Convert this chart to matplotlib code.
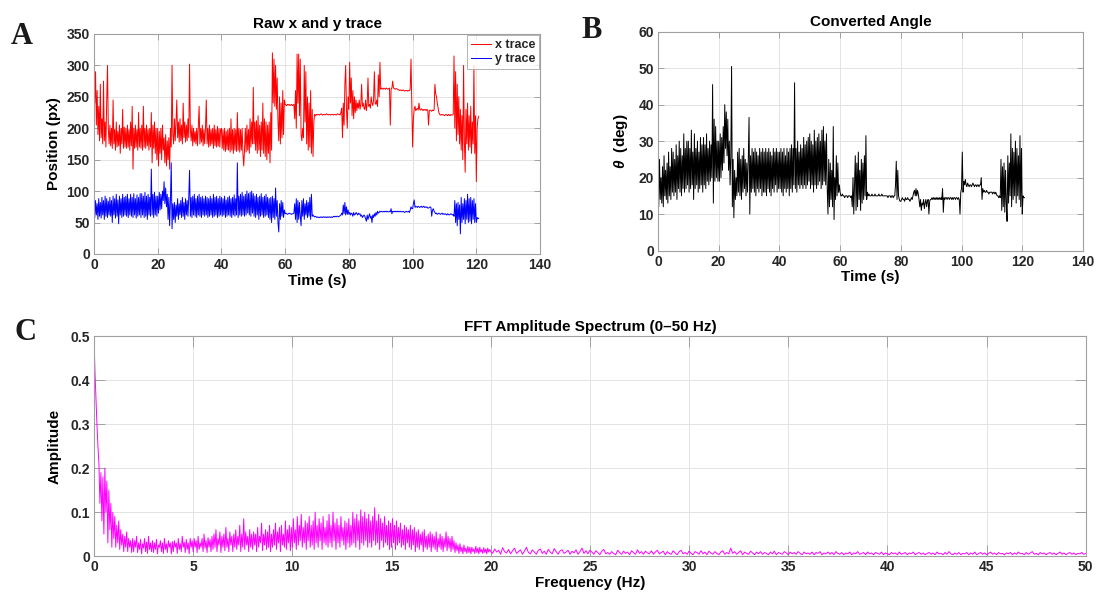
import numpy as np
import matplotlib
matplotlib.use("Agg")
import matplotlib.pyplot as plt
from matplotlib.ticker import FuncFormatter

plt.rcParams['font.family'] = ['Liberation Sans', 'DejaVu Sans']
plt.rcParams['mathtext.fontset'] = 'custom'
plt.rcParams['mathtext.it'] = 'Liberation Sans:italic:bold'
plt.rcParams['mathtext.rm'] = 'Liberation Sans:bold'

# ---- data, 0.25 s sampling (one row = 5 s) ----
x_trace = [
    300, 240, 290, 205, 260, 190, 235, 180, 270, 185, 215, 175, 275, 180, 210, 170, 245, 300, 200, 175,
    205, 172, 200, 168, 245, 175, 198, 165, 210, 170, 195, 172, 205, 160, 200, 175, 230, 168, 202, 170,
    200, 168, 205, 170, 198, 165, 210, 172, 235, 135, 200, 168, 205, 170, 198, 165, 225, 170, 200, 168,
    205, 165, 235, 170, 200, 168, 205, 172, 198, 165, 200, 170, 225, 145, 205, 168, 210, 160, 200, 150,
    200, 140, 195, 160, 200, 150, 205, 165, 185, 145, 190, 140, 180, 150, 185, 135, 200, 170, 300, 190,
    175, 215, 180, 210, 245, 185, 210, 178, 215, 180, 205, 175, 240, 185, 210, 178, 205, 180, 215, 185,
    302, 200, 180, 205, 172, 200, 178, 195, 175, 200, 172, 205, 235, 175, 200, 178, 205, 172, 198, 175,
    200, 245, 175, 200, 170, 205, 172, 198, 175, 200, 168, 205, 172, 198, 170, 203, 172, 200, 170, 198,
    200, 168, 198, 165, 200, 163, 195, 166, 198, 165, 200, 162, 215, 165, 198, 160, 200, 165, 198, 163,
    225, 165, 200, 162, 198, 165, 200, 160, 140, 165, 200, 162, 205, 165, 198, 160, 215, 170, 210, 175,
    265, 175, 210, 165, 212, 160, 220, 165, 205, 155, 210, 165, 240, 160, 215, 155, 210, 150, 205, 160,
    210, 145, 225, 165, 320, 240, 310, 235, 300, 230, 280, 210, 180, 250, 175, 240, 185, 260, 190, 245,
    238, 237, 236, 238, 237, 238, 236, 237, 238, 236, 237, 238, 215, 260, 200, 318, 240, 318, 220, 310,
    190, 180, 200, 185, 300, 210, 290, 175, 250, 165, 240, 170, 260, 160, 230, 155, 210, 222, 220, 222,
    221, 222, 222, 221, 222, 223, 222, 221, 222, 222, 221, 222, 223, 222, 221, 222, 222, 221, 222, 222,
    222, 221, 222, 222, 221, 222, 223, 222, 222, 221, 225, 232, 185, 240, 205, 270, 300, 230, 200, 250,
    230, 305, 240, 280, 220, 260, 215, 250, 225, 245, 228, 240, 232, 245, 230, 238, 270, 235, 240, 232,
    230, 245, 228, 240, 280, 235, 238, 232, 250, 240, 236, 245, 290, 240, 238, 245, 235, 285, 250, 305,
    262, 264, 263, 262, 264, 263, 262, 264, 263, 262, 263, 264, 205, 262, 264, 275, 264, 263, 262, 263,
    263, 262, 261, 261, 260, 261, 260, 260, 261, 260, 259, 260, 260, 260, 259, 260, 260, 262, 310, 240,
    170, 215, 230, 235, 228, 230, 232, 229, 240, 230, 229, 231, 230, 228, 230, 229, 230, 228, 230, 229,
    205, 228, 229, 228, 227, 229, 228, 229, 270, 255, 250, 240, 232, 225, 222, 221, 222, 221, 222, 221,
    220, 221, 222, 221, 220, 222, 221, 220, 222, 221, 221, 222, 315, 200, 290, 180, 270, 190, 250, 175,
    230, 165, 220, 150, 300, 180, 130, 230, 175, 240, 165, 220, 170, 235, 160, 210, 175, 300, 160, 220,
    115, 200, 215, 219,
]

y_trace = [
    75, 58, 85, 62, 80, 55, 88, 60, 82, 57, 90, 62, 85, 55, 92, 60, 88, 58, 84, 62,
    90, 60, 85, 50, 92, 62, 88, 57, 95, 60, 86, 48, 92, 62, 88, 58, 95, 60, 90, 62,
    92, 60, 95, 58, 88, 62, 95, 60, 90, 58, 96, 62, 88, 57, 94, 60, 90, 62, 96, 58,
    96, 62, 92, 58, 98, 60, 92, 55, 95, 62, 90, 60, 135, 62, 95, 58, 98, 62, 92, 60,
    92, 65, 98, 70, 95, 72, 100, 85, 115, 80, 105, 75, 95, 55, 90, 45, 85, 145, 40, 80,
    55, 82, 50, 78, 60, 88, 55, 80, 62, 85, 58, 90, 60, 82, 55, 88, 62, 85, 60, 90,
    133, 60, 90, 58, 92, 62, 95, 60, 88, 58, 92, 62, 95, 60, 90, 58, 92, 62, 88, 60,
    92, 62, 90, 58, 88, 60, 92, 62, 88, 58, 95, 60, 90, 62, 92, 58, 88, 60, 92, 62,
    90, 60, 88, 62, 92, 58, 86, 60, 90, 62, 92, 60, 88, 58, 90, 62, 94, 60, 88, 62,
    145, 58, 92, 62, 95, 60, 98, 62, 92, 60, 95, 62, 100, 65, 96, 62, 98, 60, 100, 65,
    96, 60, 92, 58, 95, 62, 90, 55, 92, 60, 96, 62, 90, 58, 92, 60, 95, 62, 90, 58,
    88, 55, 90, 50, 92, 58, 88, 55, 105, 60, 85, 50, 35, 80, 55, 85, 60, 82, 58, 70,
    64, 65, 64, 63, 64, 65, 64, 64, 63, 64, 64, 65, 80, 55, 88, 50, 85, 55, 82, 60,
    45, 85, 60, 88, 55, 80, 62, 85, 58, 82, 60, 90, 55, 95, 60, 62, 60, 59, 60, 59,
    58, 59, 58, 58, 59, 58, 59, 58, 59, 59, 58, 59, 58, 59, 58, 59, 59, 58, 59, 58,
    59, 60, 59, 60, 59, 60, 60, 59, 60, 61, 62, 65, 62, 78, 64, 82, 62, 75, 63, 70,
    63, 66, 62, 65, 64, 60, 66, 62, 63, 66, 64, 62, 65, 63, 64, 60, 62, 58, 60, 62,
    60, 56, 52, 62, 55, 60, 64, 57, 60, 50, 62, 58, 64, 60, 66, 62, 68, 65, 66, 68,
    67, 68, 67, 67, 68, 67, 68, 67, 68, 67, 67, 68, 67, 72, 64, 68, 67, 68, 67, 68,
    67, 68, 67, 68, 67, 68, 67, 67, 68, 67, 66, 67, 68, 67, 67, 68, 66, 70, 75, 72,
    72, 80, 86, 74, 76, 75, 74, 76, 75, 74, 75, 76, 74, 75, 76, 74, 75, 74, 75, 73,
    73, 74, 75, 74, 60, 70, 72, 68, 66, 64, 65, 63, 64, 65, 64, 63, 64, 65, 63, 64,
    63, 64, 63, 62, 64, 63, 62, 63, 64, 63, 62, 63, 60, 85, 50, 80, 45, 82, 55, 78,
    32, 90, 50, 80, 55, 88, 48, 85, 55, 95, 50, 88, 52, 90, 48, 85, 55, 88, 50, 80,
    50, 58, 56, 57,
]

theta_deg = [
    22, 12, 25, 14, 20, 13, 23, 12, 26, 15, 22, 14, 24, 13, 27, 15, 23, 14, 28, 16,
    27, 15, 25, 16, 29, 14, 26, 17, 30, 16, 28, 15, 26, 17, 32, 16, 28, 17, 30, 18,
    30, 16, 28, 17, 33, 18, 27, 14, 32, 17, 28, 18, 30, 16, 27, 17, 31, 18, 29, 16,
    31, 18, 29, 17, 32, 19, 28, 18, 30, 19, 29, 20, 45.5, 13, 36, 19, 34, 20, 30, 19,
    30, 19, 32, 20, 31, 22, 34, 24, 40, 28, 38, 26, 36, 22, 30, 18, 26, 50.5, 12, 25,
    9, 22, 14, 20, 15, 27, 16, 28, 15, 25, 14, 26, 16, 28, 17, 25, 15, 24, 16, 25,
    36.5, 10, 26, 16, 28, 17, 27, 16, 28, 15, 27, 17, 26, 16, 28, 17, 27, 15, 28, 16,
    27, 16, 28, 15, 27, 17, 28, 16, 27, 15, 26, 17, 28, 16, 27, 18, 28, 16, 27, 17,
    27, 17, 28, 16, 27, 15, 28, 17, 26, 16, 28, 17, 27, 15, 28, 17, 29, 16, 28, 18,
    46, 17, 28, 16, 30, 18, 27, 17, 29, 18, 28, 17, 31, 18, 29, 17, 30, 18, 31, 19,
    32, 17, 30, 18, 29, 16, 33, 18, 30, 17, 31, 18, 32, 19, 30, 17, 33, 18, 34, 19,
    30, 18, 32, 17, 10, 25, 12, 24, 14, 22, 12, 34, 8.5, 20, 14, 26, 15, 24, 16, 18,
    16, 15, 15, 15.5, 15, 15, 14.5, 15, 15, 15, 14.5, 15, 15, 15, 14.5, 15, 12, 20, 10, 18,
    26, 11, 24, 12, 27, 14, 22, 11, 25, 13, 24, 14, 26, 15, 31.5, 14, 16, 15, 15.5, 15,
    15, 15, 15.5, 15, 15, 15, 15.5, 15, 15, 15, 15, 15.5, 15, 15, 15, 15.5, 15, 15, 15, 15,
    15, 15, 15, 14.5, 15, 15, 15, 14.5, 15, 15, 14.5, 15, 15, 18, 24.5, 14, 22, 15, 14, 13.5,
    13.5, 14, 14.5, 14, 14, 13.5, 14.5, 14, 14, 14.5, 14, 14, 13.5, 14, 14.5, 14, 15, 16, 16.5, 15,
    17, 15, 16.5, 15.5, 14, 12, 14, 11, 13, 12.5, 14, 11.5, 13, 14, 12, 13.5, 14, 10, 13.5, 14,
    14, 14.5, 14, 14.5, 14, 14.5, 14, 14.5, 14, 14.5, 14, 14.5, 14, 14.5, 14, 17, 10.5, 14.5, 14, 14.5,
    14.5, 14, 14.5, 14.5, 14, 14.5, 14.5, 14, 14.5, 14, 14.5, 14.5, 14, 14.5, 14.5, 14, 14.5, 14, 10, 16,
    17, 27, 16, 19, 18, 19.5, 18, 17.5, 18.5, 18, 17.5, 18, 18, 17.5, 18, 18.5, 18, 17.5, 18, 18,
    17.5, 18, 18, 17.5, 18, 18, 20, 14, 17, 16, 16.5, 16, 16, 16.5, 16, 16, 15.5, 16, 16, 16,
    16, 15.5, 16, 16, 15.5, 16, 15.5, 15, 15, 14.5, 15, 14.5, 25, 11, 23, 12, 24, 10.5, 22, 13,
    8, 26, 13, 24, 15, 32, 12, 28, 14, 27, 15, 30, 13, 28, 15, 26, 14, 31.5, 12, 28,
    10, 15, 14.5, 14.5,
]

# FFT amplitude: 0.05 Hz bins to 20 Hz (one row = 1 Hz), then 0.1 Hz bins (one row = 2 Hz)
fft_amp = [
    0.50, 0.42, 0.36, 0.30, 0.25, 0.21, 0.12, 0.19, 0.08, 0.18, 0.05, 0.20, 0.10, 0.17, 0.03, 0.15, 0.06, 0.12, 0.02, 0.10,
    0.04, 0.09, 0.02, 0.07, 0.03, 0.08, 0.015, 0.06, 0.025, 0.05, 0.01, 0.045, 0.02, 0.055, 0.01, 0.04, 0.02, 0.035, 0.008, 0.04,
    0.01, 0.035, 0.02, 0.045, 0.008, 0.03, 0.015, 0.038, 0.005, 0.028, 0.018, 0.04, 0.01, 0.032, 0.006, 0.045, 0.015, 0.03, 0.01, 0.035,
    0.008, 0.03, 0.015, 0.038, 0.005, 0.025, 0.02, 0.035, 0.01, 0.03, 0.006, 0.04, 0.015, 0.028, 0.008, 0.035, 0.02, 0.03, 0.005, 0.033,
    0.01, 0.035, 0.02, 0.03, 0.006, 0.04, 0.015, 0.028, 0.01, 0.045, 0.02, 0.032, 0.008, 0.038, 0.015, 0.03, 0.005, 0.04, 0.02, 0.035,
    0.01, 0.04, 0.02, 0.035, 0.008, 0.045, 0.015, 0.03, 0.02, 0.04, 0.01, 0.05, 0.018, 0.035, 0.008, 0.042, 0.02, 0.038, 0.01, 0.045,
    0.015, 0.05, 0.02, 0.06, 0.01, 0.04, 0.025, 0.055, 0.008, 0.045, 0.02, 0.05, 0.012, 0.065, 0.02, 0.04, 0.01, 0.055, 0.025, 0.045,
    0.01, 0.05, 0.02, 0.06, 0.015, 0.045, 0.025, 0.07, 0.01, 0.05, 0.02, 0.085, 0.015, 0.055, 0.025, 0.045, 0.01, 0.06, 0.02, 0.05,
    0.015, 0.055, 0.025, 0.05, 0.01, 0.065, 0.02, 0.045, 0.03, 0.075, 0.012, 0.05, 0.025, 0.06, 0.015, 0.055, 0.02, 0.07, 0.01, 0.05,
    0.02, 0.06, 0.025, 0.075, 0.015, 0.055, 0.03, 0.065, 0.01, 0.07, 0.025, 0.05, 0.02, 0.08, 0.015, 0.06, 0.03, 0.07, 0.012, 0.065,
    0.02, 0.085, 0.03, 0.06, 0.015, 0.09, 0.025, 0.07, 0.035, 0.095, 0.02, 0.065, 0.03, 0.08, 0.015, 0.075, 0.035, 0.09, 0.02, 0.07,
    0.025, 0.08, 0.015, 0.1, 0.03, 0.07, 0.02, 0.085, 0.035, 0.075, 0.015, 0.09, 0.03, 0.065, 0.025, 0.08, 0.02, 0.095, 0.03, 0.07,
    0.02, 0.1, 0.035, 0.075, 0.015, 0.085, 0.03, 0.07, 0.02, 0.09, 0.035, 0.065, 0.025, 0.08, 0.015, 0.075, 0.03, 0.085, 0.02, 0.07,
    0.025, 0.1, 0.03, 0.085, 0.02, 0.095, 0.035, 0.08, 0.015, 0.105, 0.03, 0.09, 0.025, 0.1, 0.035, 0.085, 0.02, 0.095, 0.03, 0.08,
    0.02, 0.09, 0.035, 0.11, 0.025, 0.08, 0.03, 0.095, 0.015, 0.085, 0.035, 0.075, 0.02, 0.09, 0.03, 0.07, 0.025, 0.08, 0.015, 0.075,
    0.02, 0.085, 0.03, 0.07, 0.015, 0.08, 0.025, 0.065, 0.03, 0.075, 0.02, 0.06, 0.025, 0.07, 0.015, 0.065, 0.03, 0.06, 0.02, 0.07,
    0.015, 0.06, 0.025, 0.065, 0.01, 0.055, 0.02, 0.06, 0.015, 0.05, 0.025, 0.055, 0.01, 0.06, 0.02, 0.045, 0.015, 0.05, 0.02, 0.055,
    0.01, 0.05, 0.02, 0.045, 0.015, 0.055, 0.01, 0.04, 0.02, 0.05, 0.015, 0.045, 0.01, 0.04, 0.02, 0.055, 0.012, 0.045, 0.018, 0.04,
    0.01, 0.045, 0.015, 0.035, 0.008, 0.03, 0.012, 0.025, 0.006, 0.028, 0.01, 0.02, 0.005, 0.025, 0.01, 0.018, 0.006, 0.022, 0.008, 0.02,
    0.005, 0.02, 0.01, 0.016, 0.006, 0.022, 0.008, 0.018, 0.005, 0.02, 0.009, 0.015, 0.006, 0.019, 0.008, 0.016, 0.005, 0.018, 0.009, 0.015,
    0.01,
    0.006, 0.016, 0.009, 0.013, 0.004, 0.019, 0.01, 0.007, 0.015, 0.005, 0.012, 0.018, 0.006, 0.01, 0.014, 0.004, 0.011, 0.02, 0.008, 0.005,
    0.014, 0.009, 0.004, 0.013, 0.016, 0.006, 0.011, 0.004, 0.015, 0.009, 0.005, 0.017, 0.01, 0.004, 0.012, 0.014, 0.006, 0.009, 0.013, 0.004,
    0.011, 0.007, 0.014, 0.004, 0.01, 0.018, 0.006, 0.012, 0.005, 0.013, 0.009, 0.004, 0.012, 0.008, 0.003, 0.011, 0.015, 0.005, 0.008, 0.004,
    0.01, 0.006, 0.003, 0.013, 0.008, 0.004, 0.011, 0.006, 0.009, 0.003, 0.012, 0.008, 0.004, 0.014, 0.006, 0.01, 0.004, 0.011, 0.007, 0.005,
    0.012, 0.004, 0.009, 0.013, 0.005, 0.008, 0.011, 0.003, 0.01, 0.006, 0.004, 0.012, 0.007, 0.003, 0.01, 0.013, 0.005, 0.008, 0.004, 0.011,
    0.006, 0.003, 0.01, 0.008, 0.004, 0.012, 0.005, 0.009, 0.003, 0.011, 0.007, 0.004, 0.01, 0.006, 0.003, 0.009, 0.012, 0.004, 0.008, 0.005,
    0.018, 0.006, 0.01, 0.004, 0.008, 0.012, 0.003, 0.009, 0.006, 0.004, 0.011, 0.007, 0.003, 0.009, 0.005, 0.01, 0.004, 0.008, 0.006, 0.003,
    0.009, 0.005, 0.011, 0.003, 0.008, 0.006, 0.004, 0.01, 0.007, 0.003, 0.009, 0.005, 0.008, 0.004, 0.01, 0.006, 0.003, 0.009, 0.005, 0.007,
    0.004, 0.009, 0.003, 0.008, 0.006, 0.01, 0.003, 0.007, 0.005, 0.009, 0.004, 0.008, 0.003, 0.01, 0.006, 0.004, 0.008, 0.003, 0.007, 0.005,
    0.009, 0.003, 0.007, 0.005, 0.01, 0.004, 0.006, 0.008, 0.003, 0.009, 0.005, 0.007, 0.003, 0.008, 0.006, 0.004, 0.009, 0.003, 0.007, 0.005,
    0.003, 0.008, 0.005, 0.007, 0.003, 0.009, 0.004, 0.006, 0.008, 0.003, 0.007, 0.005, 0.009, 0.003, 0.006, 0.008, 0.004, 0.007, 0.003, 0.006,
    0.008, 0.004, 0.007, 0.003, 0.009, 0.005, 0.006, 0.003, 0.008, 0.004, 0.01, 0.005, 0.003, 0.007, 0.004, 0.008, 0.003, 0.006, 0.005, 0.008,
    0.003, 0.007, 0.004, 0.009, 0.003, 0.006, 0.008, 0.004, 0.007, 0.003, 0.006, 0.009, 0.004, 0.007, 0.003, 0.008, 0.005, 0.006, 0.003, 0.007,
    0.005, 0.008, 0.003, 0.007, 0.004, 0.009, 0.005, 0.006, 0.003, 0.008, 0.004, 0.007, 0.01, 0.004, 0.006, 0.003, 0.008, 0.005, 0.007, 0.003,
    0.006, 0.008, 0.004, 0.007, 0.003, 0.006, 0.009, 0.004, 0.007, 0.003, 0.006, 0.008, 0.004, 0.007, 0.003, 0.006, 0.005, 0.008, 0.004, 0.006,
]

TICK_COLOR = '#262626'
SPINE_COLOR = '#a0a0a0'


def sample_times(values, step=0.25):
    return np.arange(len(values)) * step


freq_hz = np.concatenate([np.arange(401) * 0.05, 20 + np.arange(1, 301) * 0.1])
freq_hz = freq_hz[:len(fft_amp)]


def style_axes(ax, xticks, yticks, xlim, ylim):
    ax.set_xlim(*xlim)
    ax.set_ylim(*ylim)
    ax.set_xticks(xticks)
    ax.set_yticks(yticks)
    ax.grid(True, color='#e3e3e3', linewidth=0.7)
    ax.set_axisbelow(True)
    ax.tick_params(direction='in', top=True, right=True, length=4,
                   width=0.7, color=SPINE_COLOR, labelcolor=TICK_COLOR,
                   labelsize=10, pad=3)
    for lab in ax.get_xticklabels() + ax.get_yticklabels():
        lab.set_fontweight('bold')
    for sp in ax.spines.values():
        sp.set_color(SPINE_COLOR)
        sp.set_linewidth(0.8)
    ax.yaxis.set_major_formatter(FuncFormatter(lambda v, p: '%g' % round(v, 6)))


fig = plt.figure(figsize=(10.99, 5.98), dpi=100)

# ---- A ----
axA = fig.add_axes([0.0855, 0.5753, 0.4059, 0.3679])
axA.plot(sample_times(x_trace), x_trace, color='#ff0000', linewidth=0.7, label='x trace')
axA.plot(sample_times(y_trace), y_trace, color='#0000ff', linewidth=0.7, label='y trace')
style_axes(axA, range(0, 141, 20), range(0, 351, 50), (0, 140), (0, 350))
axA.set_title('Raw x and y trace', fontsize=11, fontweight='bold', pad=4)
axA.set_xlabel('Time (s)', fontsize=11, fontweight='bold', labelpad=1)
axA.set_ylabel('Position (px)', fontsize=11, fontweight='bold', labelpad=4)
leg = axA.legend(loc='upper right', fontsize=9, frameon=True, fancybox=False,
                 borderaxespad=0.1, handlelength=1.6, handletextpad=0.3,
                 borderpad=0.3, labelspacing=0.2)
leg.get_frame().set_edgecolor(SPINE_COLOR)
leg.get_frame().set_linewidth(0.7)
for t in leg.get_texts():
    t.set_fontweight('bold')
    t.set_color(TICK_COLOR)

# ---- B ----
axB = fig.add_axes([0.5987, 0.5810, 0.3867, 0.3660])
axB.plot(sample_times(theta_deg), theta_deg, color='black', linewidth=0.7)
style_axes(axB, range(0, 141, 20), range(0, 61, 10), (0, 140), (0, 60))
axB.set_title('Converted Angle', fontsize=11, fontweight='bold', pad=4)
axB.set_xlabel('Time (s)', fontsize=11, fontweight='bold', labelpad=1)
axB.set_ylabel(r'$\mathit{\theta}$  (deg)', fontsize=11, fontweight='bold', labelpad=6)

# ---- C ----
axC = fig.add_axes([0.0855, 0.0702, 0.9025, 0.3671])
axC.plot(freq_hz, fft_amp, color='#ff00ff', linewidth=0.7)
style_axes(axC, range(0, 51, 5), np.arange(0, 0.51, 0.1), (0, 50), (0, 0.5))
axC.tick_params(length=8)
axC.set_title('FFT Amplitude Spectrum (0\u201350 Hz)', fontsize=11,
              fontweight='bold', pad=4)
axC.set_xlabel('Frequency (Hz)', fontsize=11, fontweight='bold', labelpad=1)
axC.set_ylabel('Amplitude', fontsize=11, fontweight='bold', labelpad=6)

# panel letters
for letter, (px, py) in {'A': (22, 36), 'B': (592, 30), 'C': (26, 333)}.items():
    fig.text(px / 1099, 1 - py / 598, letter, family=['Liberation Serif', 'DejaVu Serif'],
             fontsize=22, fontweight='bold', ha='center', va='center', color='#1a1a1a')

fig.savefig('out.png', dpi=100)
